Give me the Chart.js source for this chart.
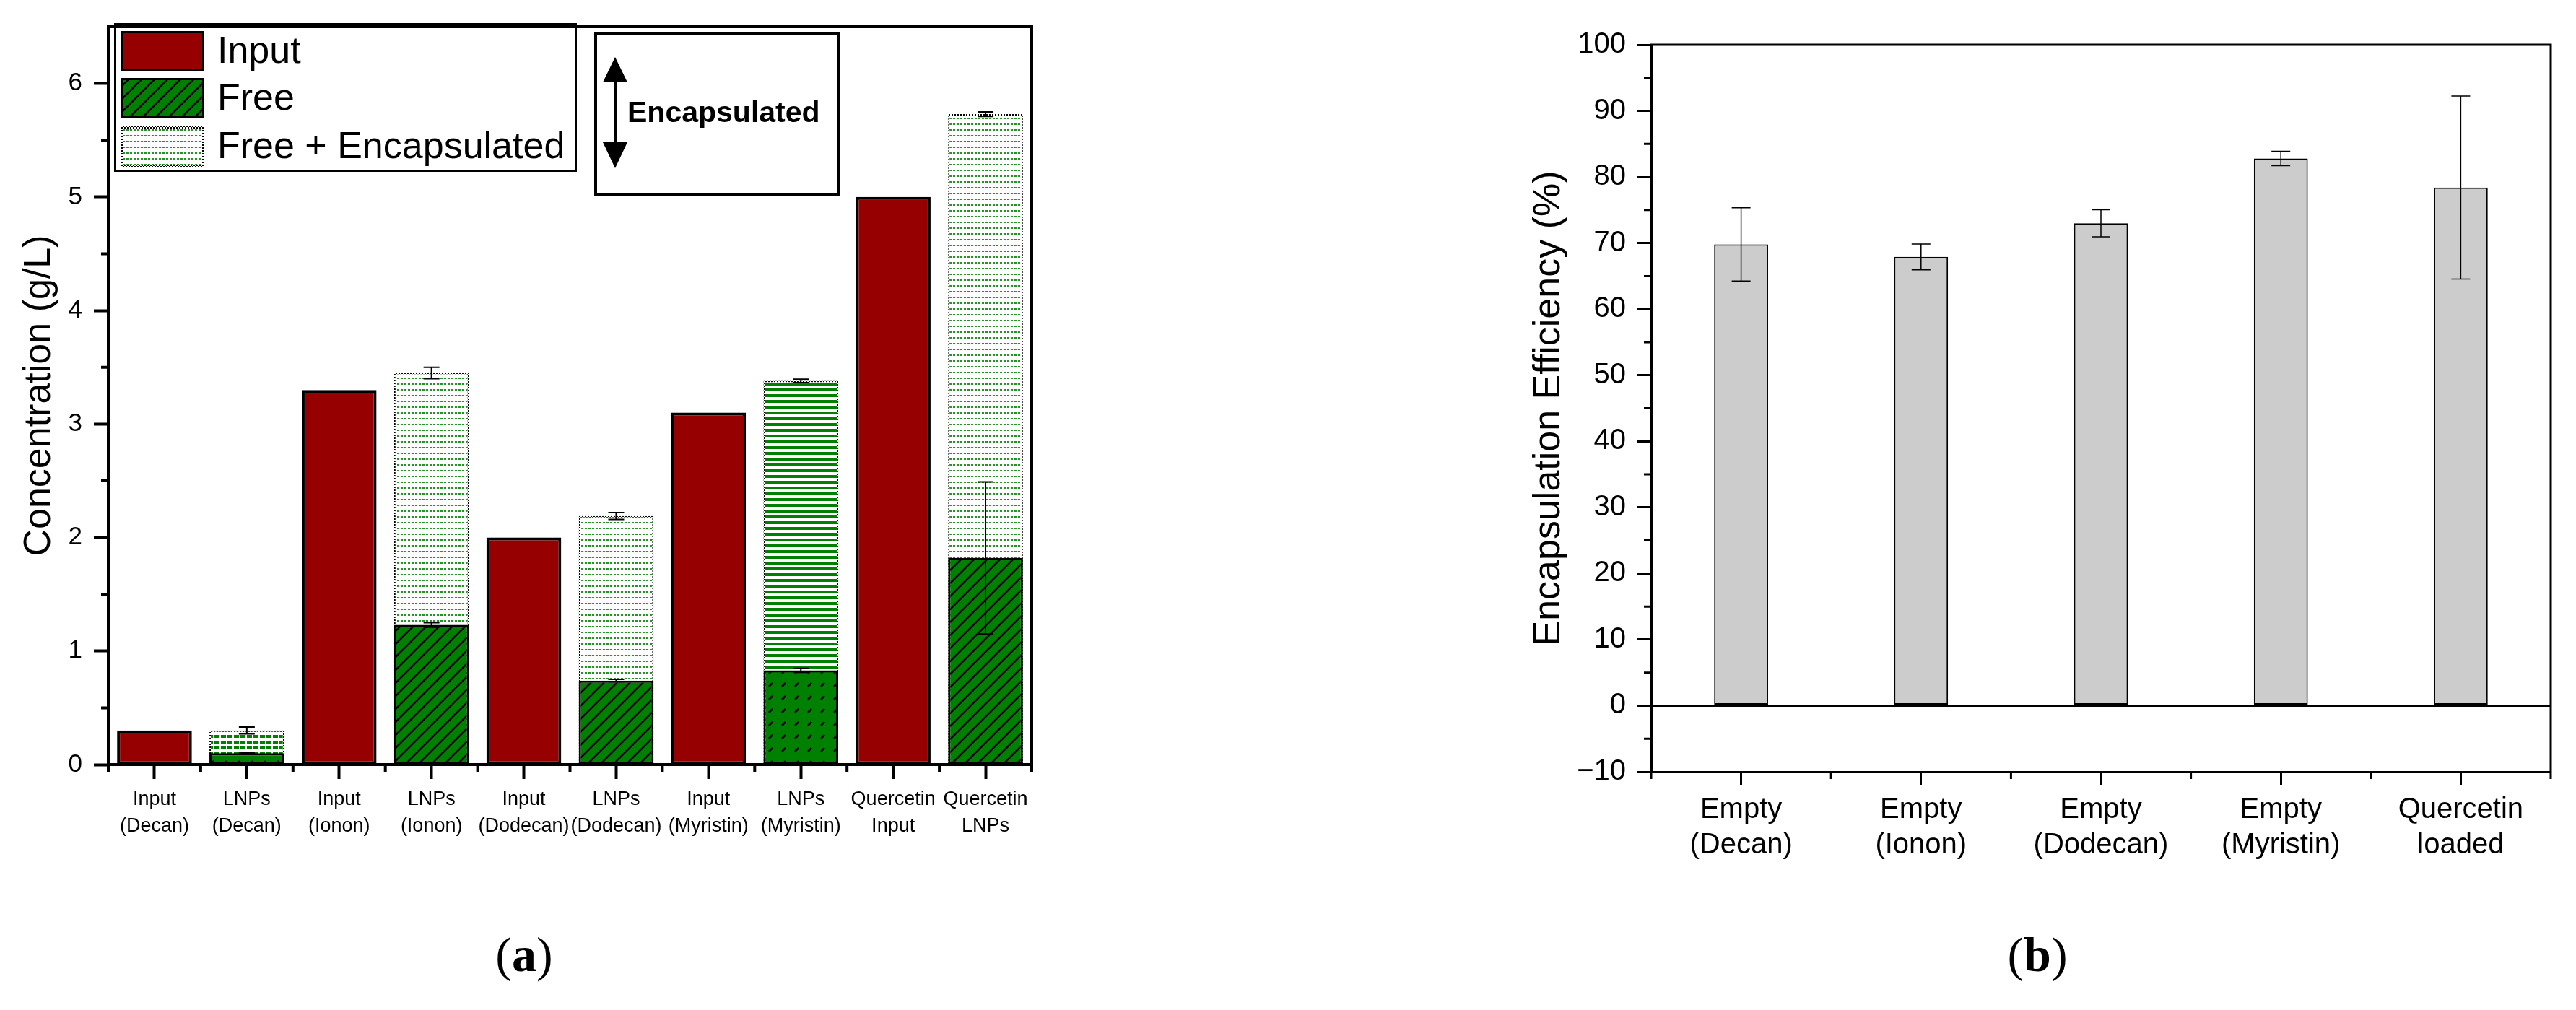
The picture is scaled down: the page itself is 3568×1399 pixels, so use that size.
<!DOCTYPE html>
<html>
<head>
<meta charset="utf-8">
<script src="https://cdn.jsdelivr.net/npm/chart.js@4.4.1/dist/chart.umd.min.js"></script>
<style>
  html, body { margin: 0; padding: 0; background: #fff; }
  body { width: 3568px; height: 1399px; position: relative; overflow: hidden; }
  canvas { position: absolute; top: 0; }
  #chartA { left: 0; }
  #chartB { left: 1800px; }
  .panel { position: absolute; top: 1282px; width: 200px; text-align: center; line-height: 80px;
           font-family: 'Liberation Serif', 'DejaVu Serif', serif; font-size: 68px; color: #000; }
  .panel b { font-weight: bold; }
</style>
</head>
<body>
<canvas id="chartA" width="1500" height="1200"></canvas>
<canvas id="chartB" width="1768" height="1200"></canvas>
<div class="panel" style="left:626px">(<b>a</b>)</div>
<div class="panel" style="left:2722px">(<b>b</b>)</div>
<script>
// Font used for all chart text
const FONT = "'Liberation Sans', Arial, sans-serif";

// Panel (a): concentration of input and lipid nanoparticles (g/L)
const labelsA = [
  ['Input', '(Decan)'], ['LNPs', '(Decan)'], ['Input', '(Ionon)'], ['LNPs', '(Ionon)'],
  ['Input', '(Dodecan)'], ['LNPs', '(Dodecan)'], ['Input', '(Myristin)'], ['LNPs', '(Myristin)'],
  ['Quercetin', 'Input'], ['Quercetin', 'LNPs'],
];
const inputA = [0.30, null, 3.30, null, 2.00, null, 3.10, null, 5.00, null];
const freeA = [null, 0.10, null, 1.23, null, 0.74, null, 0.83, null, 1.82];
const freeErrA = [null, 0.005, null, 0.02, null, 0.01, null, 0.018, null, 0.67];
const totalA = [null, 0.30, null, 3.45, null, 2.19, null, 3.38, null, 5.73];
const totalErrA = [null, 0.03, null, 0.05, null, 0.03, null, 0.015, null, 0.02];
const yTicksA = [0, 1, 2, 3, 4, 5, 6];
const yMinorA = [0.5, 1.5, 2.5, 3.5, 4.5, 5.5];

// Panel (b): encapsulation efficiency (%)
const labelsB = [['Empty', '(Decan)'], ['Empty', '(Ionon)'], ['Empty', '(Dodecan)'], ['Empty', '(Myristin)'], ['Quercetin', 'loaded']];
const effB = [69.8, 67.9, 73.0, 82.8, 78.4];
const effErrB = [5.55, 1.95, 2.05, 1.1, 13.85];
const yTicksB = [-10, 0, 10, 20, 30, 40, 50, 60, 70, 80, 90, 100];
const yMinorB = [-5, 5, 15, 25, 35, 45, 55, 65, 75, 85, 95];

// Build a repeating fill pattern from a small tile
function makePattern(ctx, w, h, draw) {
  const tile = document.createElement('canvas');
  tile.width = w;
  tile.height = h;
  draw(tile.getContext('2d'));
  return ctx.createPattern(tile, 'repeat');
}

const red = '#960000';
const green = '#008000';
const ctxA = document.getElementById('chartA').getContext('2d');
const ctxB = document.getElementById('chartB').getContext('2d');

// green with black "///" hatch
const hatch = makePattern(ctxA, 18, 18, g => {
  g.fillStyle = green;
  g.fillRect(0, 0, 18, 18);
  g.strokeStyle = '#000';
  g.lineWidth = 2.5;
  g.beginPath();
  g.moveTo(-2, 20); g.lineTo(20, -2);
  g.moveTo(-2, 2); g.lineTo(2, -2);
  g.moveTo(16, 20); g.lineTo(20, 16);
  g.stroke();
});
// green with short black dashes on the diagonal
const hatchDashed = makePattern(ctxA, 18, 18, g => {
  g.fillStyle = green;
  g.fillRect(0, 0, 18, 18);
  g.strokeStyle = '#000';
  g.lineWidth = 2.5;
  g.beginPath();
  g.moveTo(3, 15); g.lineTo(8, 10);
  g.stroke();
});
// white with fine green dashed lines
const fineLines = makePattern(ctxA, 5, 8, g => {
  g.fillStyle = '#fff';
  g.fillRect(0, 0, 5, 8);
  g.fillStyle = 'rgba(0,128,0,0.85)';
  g.fillRect(0, 3, 3, 2);
});
// white with thick green dashed stripes
const thickDashes = makePattern(ctxA, 9, 8, g => {
  g.fillStyle = '#fff';
  g.fillRect(0, 0, 9, 8);
  g.fillStyle = green;
  g.fillRect(0, 2, 7, 4);
});
// white with solid green stripes
const stripes = makePattern(ctxA, 4, 8, g => {
  g.fillStyle = '#fff';
  g.fillRect(0, 0, 4, 8);
  g.fillStyle = green;
  g.fillRect(0, 2, 4, 4);
});
// dotted black border
const dots = makePattern(ctxA, 4, 4, g => {
  g.fillStyle = '#000';
  g.fillRect(0, 0, 2, 2);
  g.fillRect(2, 2, 2, 2);
});

const freeFill = [null, hatchDashed, null, hatch, null, hatch, null, hatchDashed, null, hatch];
const totalFill = [null, thickDashes, null, fineLines, null, fineLines, null, stripes, null, fineLines];

// Error bars drawn on top of the bars
const errorBars = {
  id: 'errorBars',
  afterDatasetsDraw(chart, args, opts) {
    const ctx = chart.ctx;
    const yScale = chart.scales.y;
    ctx.save();
    ctx.strokeStyle = '#000';
    ctx.lineWidth = opts.width;
    opts.sets.forEach(set => {
      const values = chart.data.datasets[set.index].data;
      chart.getDatasetMeta(set.index).data.forEach((bar, i) => {
        if (values[i] == null || set.err[i] == null) return;
        const top = yScale.getPixelForValue(values[i] + set.err[i]);
        const bottom = yScale.getPixelForValue(values[i] - set.err[i]);
        const half = opts.cap / 2;
        ctx.beginPath();
        ctx.moveTo(bar.x, top); ctx.lineTo(bar.x, bottom);
        ctx.moveTo(bar.x - half, top); ctx.lineTo(bar.x + half, top);
        ctx.moveTo(bar.x - half, bottom); ctx.lineTo(bar.x + half, bottom);
        ctx.stroke();
      });
    });
    ctx.restore();
  },
};

// Top/right frame and the short minor ticks
const frame = {
  id: 'frame',
  afterDraw(chart, args, opts) {
    const { ctx, chartArea: a } = chart;
    const x = chart.scales.x;
    const y = chart.scales.y;
    ctx.save();
    ctx.strokeStyle = '#000';
    ctx.lineWidth = opts.width;
    ctx.beginPath();
    ctx.moveTo(a.left - opts.width / 2, a.top);
    ctx.lineTo(a.right, a.top);
    ctx.lineTo(a.right, a.bottom);
    opts.yMinor.forEach(v => {
      const py = y.getPixelForValue(v);
      ctx.moveTo(a.left, py);
      ctx.lineTo(a.left - opts.minor, py);
    });
    for (let k = 0; k <= chart.data.labels.length; k++) {
      const px = x.getPixelForValue(k - 0.5);
      ctx.moveTo(px, a.bottom);
      ctx.lineTo(px, a.bottom + opts.minor);
    }
    ctx.stroke();
    ctx.restore();
  },
};

// Legend box and the "Encapsulated" note inside panel (a)
const decorA = {
  id: 'decorA',
  afterDraw(chart) {
    const ctx = chart.ctx;
    ctx.save();
    ctx.strokeStyle = '#000';
    ctx.lineWidth = 2;
    ctx.strokeRect(159, 33, 639, 204);

    const rows = [
      { text: 'Input', fill: red, border: '#000', y: 43 },
      { text: 'Free', fill: hatch, border: '#000', y: 108 },
      { text: 'Free + Encapsulated', fill: fineLines, border: dots, y: 175 },
    ];
    rows.forEach(r => {
      ctx.fillStyle = r.border;
      ctx.fillRect(168, r.y, 115, 56);
      ctx.fillStyle = r.fill;
      ctx.fillRect(171, r.y + 3, 109, 50);
      ctx.fillStyle = '#000';
      ctx.font = '52px ' + FONT;
      ctx.textAlign = 'left';
      ctx.textBaseline = 'middle';
      ctx.fillText(r.text, 301, r.y + 30);
    });

    ctx.lineWidth = 4;
    ctx.strokeRect(825, 46, 337, 224);
    ctx.lineWidth = 4;
    ctx.beginPath();
    ctx.moveTo(852, 110); ctx.lineTo(852, 200);
    ctx.stroke();
    ctx.fillStyle = '#000';
    ctx.beginPath();
    ctx.moveTo(852, 79); ctx.lineTo(835, 114); ctx.lineTo(869, 114); ctx.closePath();
    ctx.moveTo(852, 233); ctx.lineTo(835, 197); ctx.lineTo(869, 197); ctx.closePath();
    ctx.fill();
    ctx.font = 'bold 41px ' + FONT;
    ctx.textAlign = 'left';
    ctx.textBaseline = 'middle';
    ctx.fillText('Encapsulated', 869, 158);
    ctx.restore();
  },
};

// Chart (a)
new Chart(ctxA, {
  type: 'bar',
  data: {
    labels: labelsA,
    datasets: [
      { label: 'Input', data: inputA, backgroundColor: red, borderColor: '#000', borderWidth: 4 },
      { label: 'Free', data: freeA, backgroundColor: freeFill, borderColor: '#000', borderWidth: 3 },
      { label: 'Free + Encapsulated', data: totalA, backgroundColor: totalFill, borderColor: dots, borderWidth: 2 },
    ],
  },
  options: {
    responsive: false,
    animation: false,
    devicePixelRatio: 1,
    layout: { padding: { left: 0, top: 28, right: 71, bottom: 0 } },
    datasets: { bar: { grouped: false, barPercentage: 0.81, categoryPercentage: 1, borderSkipped: false } },
    scales: {
      x: {
        offset: true,
        grid: { offset: false, drawOnChartArea: false, tickLength: 20, tickWidth: 4, tickColor: '#000' },
        border: { color: '#000', width: 4 },
        ticks: { color: '#000', font: { family: FONT, size: 27, lineHeight: 1.37 }, padding: 10, maxRotation: 0, autoSkip: false },
        afterFit: s => { s.height = 141; },
      },
      y: {
        min: 0,
        max: 6.5,
        afterBuildTicks: s => { s.ticks = yTicksA.map(v => ({ value: v })); },
        grid: { drawOnChartArea: false, tickLength: 20, tickWidth: 4, tickColor: '#000' },
        border: { color: '#000', width: 4 },
        ticks: { color: '#000', font: { family: FONT, size: 35 }, padding: 16 },
        title: { display: true, text: 'Concentration (g/L)', color: '#000', font: { family: FONT, size: 52 }, padding: { top: 23, bottom: 0 } },
        afterFit: s => { s.width = 150; },
      },
    },
    plugins: {
      legend: { display: false },
      tooltip: { enabled: false },
      errorBars: { width: 2, cap: 22, sets: [{ index: 2, err: totalErrA }, { index: 1, err: freeErrA }] },
      frame: { width: 4, minor: 10, yMinor: yMinorA },
    },
  },
  plugins: [errorBars, frame, decorA],
});

// Chart (b)
new Chart(ctxB, {
  type: 'bar',
  data: {
    labels: labelsB,
    datasets: [
      { label: 'Encapsulation Efficiency', data: effB, backgroundColor: '#cccccc', borderColor: '#000', borderWidth: 2 },
    ],
  },
  options: {
    responsive: false,
    animation: false,
    devicePixelRatio: 1,
    layout: { padding: { left: 0, top: 62, right: 35, bottom: 0 } },
    datasets: { bar: { barPercentage: 0.3, categoryPercentage: 1, borderSkipped: false } },
    scales: {
      x: {
        offset: true,
        grid: { offset: false, drawOnChartArea: false, tickLength: 19, tickWidth: 3, tickColor: '#000' },
        border: { color: '#000', width: 3 },
        ticks: { color: '#000', font: { family: FONT, size: 40, lineHeight: 1.22 }, padding: 10, maxRotation: 0, autoSkip: false },
        afterFit: s => { s.height = 131; },
      },
      y: {
        min: -10,
        max: 100,
        afterBuildTicks: s => { s.ticks = yTicksB.map(v => ({ value: v })); },
        grid: {
          drawOnChartArea: true,
          color: c => (c.tick && c.tick.value === 0 ? '#000' : 'rgba(0,0,0,0)'),
          lineWidth: 3,
          tickLength: 19,
          tickWidth: 3,
          tickColor: '#000',
        },
        border: { color: '#000', width: 3 },
        ticks: { color: '#000', font: { family: FONT, size: 40 }, padding: 16, callback: v => String(v).replace('-', '\u2212') },
        title: { display: true, text: 'Encapsulation Efficiency (%)', color: '#000', font: { family: FONT, size: 52 }, padding: { top: 314, bottom: 0 } },
        afterFit: s => { s.width = 487; },
      },
    },
    plugins: {
      legend: { display: false },
      tooltip: { enabled: false },
      errorBars: { width: 1.5, cap: 26, sets: [{ index: 0, err: effErrB }] },
      frame: { width: 3, minor: 10, yMinor: yMinorB },
    },
  },
  plugins: [errorBars, frame],
});
</script>
</body>
</html>
